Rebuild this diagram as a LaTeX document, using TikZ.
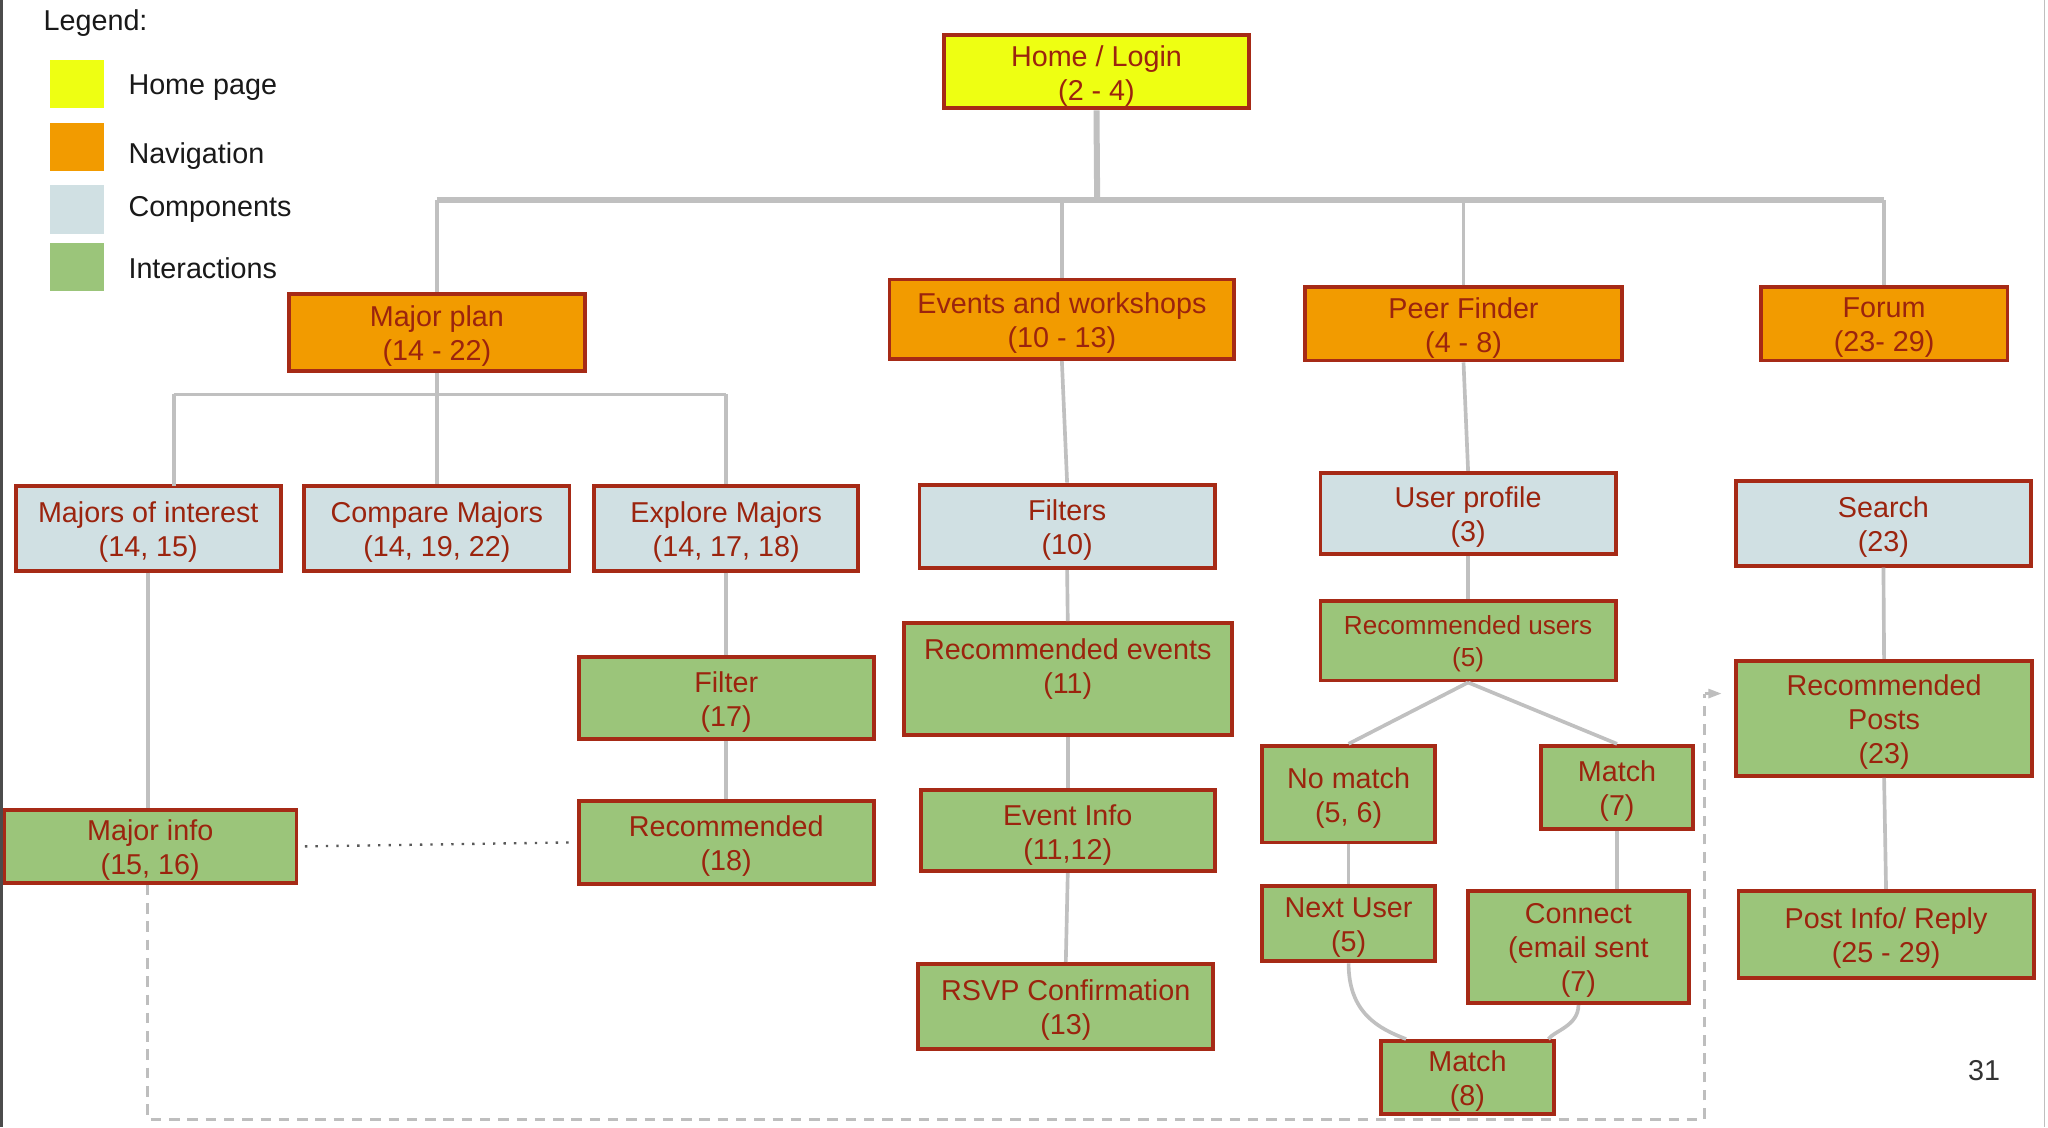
\documentclass[tikz,border=0pt]{standalone}
\usepackage{fontspec}
\setmainfont{Liberation Sans}
\usetikzlibrary{arrows.meta,calc}
\definecolor{cyel}{RGB}{238,255,18}
\definecolor{corg}{RGB}{242,155,0}
\definecolor{cblu}{RGB}{208,224,227}
\definecolor{cgrn}{RGB}{155,197,122}
\definecolor{brd}{RGB}{166,42,22}
\definecolor{txt}{RGB}{155,36,14}
\definecolor{lg}{RGB}{192,192,192}
\definecolor{dg}{RGB}{190,190,190}
\tikzset{
 box/.style={draw=brd, line width=1.5pt, inner sep=0pt},
 btxt/.style={text=txt, align=center, font=\fontsize{11}{13}\selectfont, inner sep=0pt, yshift=-1.5pt},
 conn/.style={draw=lg, line width=1.4pt},
 trunk/.style={draw=lg, line width=2.3pt},
 dotline/.style={draw=black!65, line width=0.9pt, dash pattern=on 0.9pt off 3.1pt},
 dashline/.style={draw=dg, line width=0.9pt, dash pattern=on 4pt off 3pt},
 legtxt/.style={anchor=base west, font=\fontsize{11}{13}\selectfont, text=black!90, inner sep=0pt},
}
\newcommand{\bx}[7]{\node[box, fill=#6, minimum width={(#4-#2)*0.5pt}, minimum height={(#5-#3)*0.5pt}, label={[btxt]center:{#7}}] (#1) at ({(#2+#4)/2},{(#3+#5)/2}) {};}
\begin{document}
\begin{tikzpicture}[x=0.5pt,y=-0.5pt]
\useasboundingbox (0,0) rectangle (1568,863);
\fill[white] (0,0) rectangle (1568,863);
% legend
\node[legtxt] (leg) at (33,23) {Legend:};
\fill[cyel] (38,46) rectangle (80,83);
\fill[corg] (38,94) rectangle (80,131);
\fill[cblu] (38,142) rectangle (80,179);
\fill[cgrn] (38,186) rectangle (80,223);
\node[legtxt] (l1) at (98,72.5) {Home page};
\node[legtxt] (l2) at (98,125) {Navigation};
\node[legtxt] (l3) at (98,166) {Components};
\node[legtxt] (l4) at (98,213) {Interactions};
% boxes
\bx{home}{723}{27}{956}{83}{cyel}{Home / Login\\(2 - 4)}
\bx{major}{221}{225}{448}{284}{corg}{Major plan\\(14 - 22)}
\bx{events}{681}{214}{945}{275}{corg}{Events and workshops\\(10 - 13)}
\bx{peer}{999}{220}{1242}{276}{corg}{Peer Finder\\(4 - 8)}
\bx{forum}{1348}{220}{1537}{276}{corg}{Forum\\(23- 29)}
\bx{moi}{12}{372}{215}{437}{cblu}{Majors of interest\\(14, 15)}
\bx{compare}{233}{372}{436}{437}{cblu}{Compare Majors\\(14, 19, 22)}
\bx{explore}{455}{372}{657}{437}{cblu}{Explore Majors\\(14, 17, 18)}
\bx{filters}{704}{371}{930}{435}{cblu}{Filters\\(10)}
\bx{uprof}{1011}{362}{1237}{424}{cblu}{User profile\\(3)}
\bx{search}{1329}{368}{1555}{433}{cblu}{Search\\(23)}
\bx{minfo}{3}{620}{227}{676}{cgrn}{Major info\\(15, 16)}
\bx{filter}{443}{503}{669}{566}{cgrn}{Filter\\(17)}
\bx{recmd}{443}{613}{669}{677}{cgrn}{Recommended\\(18)}
\bx{recev}{692}{477}{943}{563}{cgrn}{Recommended events\\(11)\\\mbox{}}
\bx{evinfo}{705}{605}{930}{667}{cgrn}{Event Info\\(11,12)}
\bx{rsvp}{703}{738}{929}{803}{cgrn}{RSVP Confirmation\\(13)}
\node[box, fill=cgrn, minimum width=113pt, minimum height=30.5pt, label={[btxt, font=\fontsize{10}{12}\selectfont, yshift=0.3pt]center:{Recommended users\\(5)}}] (recus) at (1124,490.5) {};
\bx{nomatch}{966}{571}{1099}{645}{cgrn}{No match\\(5, 6)}
\bx{match7}{1180}{571}{1296}{635}{cgrn}{Match\\(7)}
\bx{nextu}{966}{678}{1099}{736}{cgrn}{Next User\\(5)}
\bx{connect}{1124}{682}{1293}{768}{cgrn}{Connect\\(email sent\\(7)}
\bx{match8}{1057}{797}{1190}{853}{cgrn}{Match\\(8)}
\bx{recpost}{1329}{506}{1556}{594}{cgrn}{Recommended\\Posts\\(23)}
\bx{postinfo}{1331}{682}{1557}{749}{cgrn}{Post Info/ Reply\\(25 - 29)}
\node[anchor=center, font=\fontsize{11}{13}\selectfont, text=black!80, inner sep=0pt] (pg) at (1519,820) {31};
% connectors
\coordinate (hj) at (840,153);
\draw[trunk] (home.south) -- (hj);
\draw[trunk] (major.north |- hj) -- (forum.north |- hj);
\draw[conn] (major.north) -- (major.north |- hj);
\draw[conn] (events.north) -- (events.north |- hj);
\draw[conn] (peer.north) -- (peer.north |- hj);
\draw[conn] (forum.north) -- (forum.north |- hj);
\coordinate (mj) at (334.5,302);
\coordinate (moitop) at (133,372);
\draw[conn] (major.south) -- (mj);
\draw[conn] (moitop |- mj) -- (explore.north |- mj);
\draw[conn] (moitop) -- (moitop |- mj);
\draw[conn] (compare.north) -- (compare.north |- mj);
\draw[conn] (explore.north) -- (explore.north |- mj);
\draw[conn] (moi.south) -- (moi.south |- minfo.north);
\draw[conn] (explore.south) -- (filter.north);
\draw[conn] (filter.south) -- (recmd.north);
\draw[conn] (events.south) -- (filters.north);
\draw[conn] (filters.south) -- (recev.north);
\draw[conn] (recev.south) -- (evinfo.north);
\draw[conn] (evinfo.south) -- (rsvp.north);
\draw[conn] (peer.south) -- (uprof.north);
\draw[conn] (uprof.south) -- (recus.north);
\draw[conn] (recus.south) -- (nomatch.north);
\draw[conn] (recus.south) -- (match7.north);
\draw[conn] (nomatch.south) -- (nextu.north);
\draw[conn] (match7.south) -- (match7.south |- connect.north);
\draw[conn] (nextu.south) .. controls ($(nextu.south)+(0,38)$) and ($(match8.north west)+(0,-8)$) .. ($(match8.north west)+(21,0)$);
\draw[conn] (connect.south) .. controls ($(connect.south)+(0,16)$) and ($(match8.north east)+(-2,-6)$) .. ($(match8.north east)+(-6,0)$);
\draw[conn] (search.south) -- (recpost.north);
\draw[conn] (recpost.south) -- (postinfo.north);
\draw[dotline] ($(minfo.east)+(5,0)$) -- ($(recmd.west)+(-6,0)$);
\coordinate (d1) at (113,857);
\coordinate (d2) at (1305,857);
\coordinate (d3) at (1305,531);
\coordinate (d4) at (1318,531);
\draw[dashline] (minfo.south -| d1) -- (d1) -- (d2) -- (d3);
\draw[dashline, -{Triangle[length=5pt,width=3.5pt]}] (d3) -- (d4);
% frame edges
\fill[black!70] (0,0) rectangle (2.5,863);
\draw[black!25, line width=0.5pt] (1565.5,0) -- (1565.5,863);
\end{tikzpicture}
\end{document}
